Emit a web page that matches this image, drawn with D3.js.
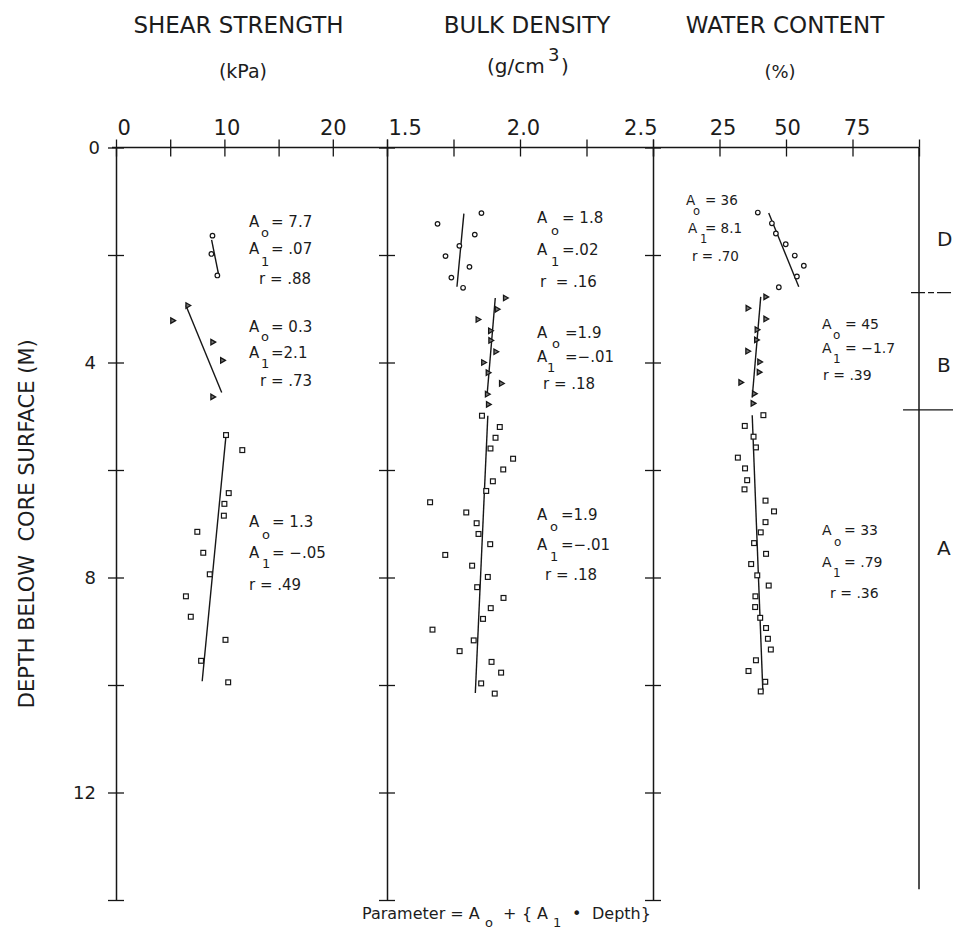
<!DOCTYPE html>
<html><head><meta charset="utf-8">
<script src="https://cdn.jsdelivr.net/npm/d3@7"></script>
<style>
html,body{margin:0;padding:0;background:#fff;}
svg{display:block;font-family:"DejaVu Sans",sans-serif;}
text{fill:#1c1c1c;white-space:pre;}
</style></head>
<body><svg id="c" width="953" height="931"></svg>
<script>
// ---------------- DATA ----------------
const titles = ["SHEAR STRENGTH","BULK DENSITY","WATER CONTENT"];
const units = ["(kPa)","(g/cm","(%)"];
const depthLabelTicks = [0,4,8,12];
const depthMinorTicks = [0,2,4,6,8,10,12,14];
const shearTickLabels = [0,10,20];
const shearMinor = [0,5,10,15,20,25];
const bulkTickLabels = [1.5,2.0,2.5];
const bulkMinor = [1.5,1.75,2.0,2.25,2.5];
const waterTickLabels = [25,50,75];
const waterMinor = [0,25,50,75,100];
const zoneNames = ["D","B","A"];
const zoneLabelDepth = [1.7,4.05,7.45];
const zoneBoundaries = [2.7,4.88];

// [depth (m), value]
const shearD = [[1.64,8.9],[1.98,8.8],[2.38,9.35]];
const shearB = [[2.94,6.6],[3.22,5.2],[3.62,8.9],[3.96,9.8],[4.64,8.9]];
const shearA = [[5.35,10.15],[5.63,11.65],[6.43,10.4],[6.63,10.0],[6.85,9.95],[7.15,7.5],[7.54,8.05],[7.94,8.65],[8.35,6.45],[8.73,6.9],[9.16,10.1],[9.55,7.85],[9.95,10.35]];
const shearFitD = [[1.72,8.82],[2.40,9.5]];
const shearFitB = [[2.94,6.45],[4.56,9.75]];
const shearFitA = [[5.35,10.15],[9.93,7.95]];

const bulkD = [[1.22,1.855],[1.42,1.69],[1.62,1.83],[1.83,1.772],[2.02,1.72],[2.22,1.81],[2.42,1.742],[2.61,1.786]];
const bulkB = [[2.80,1.944],[3.01,1.913],[3.20,1.841],[3.41,1.888],[3.59,1.889],[3.80,1.908],[4.00,1.862],[4.19,1.879],[4.39,1.929],[4.59,1.876],[4.78,1.88]];
const bulkA = [[4.99,1.857],[5.20,1.924],[5.40,1.908],[5.60,1.889],[5.79,1.974],[5.99,1.937],[6.21,1.898],[6.39,1.873],[6.60,1.662],[6.79,1.798],[6.99,1.837],[7.19,1.844],[7.38,1.888],[7.58,1.719],[7.78,1.820],[7.99,1.879],[8.18,1.839],[8.38,1.938],[8.57,1.890],[8.77,1.861],[8.97,1.671],[9.17,1.826],[9.37,1.773],[9.57,1.893],[9.77,1.929],[9.97,1.854],[10.16,1.905]];
const bulkFitD = [[1.23,1.789],[2.59,1.763]];
const bulkFitB = [[2.80,1.907],[4.62,1.876]];
const bulkFitA = [[4.99,1.879],[10.15,1.832]];

const waterD = [[1.21,39.4],[1.41,44.7],[1.60,46.2],[1.80,49.9],[2.01,53.3],[2.20,56.7],[2.40,54.1],[2.60,47.3]];
const waterB = [[2.78,42.3],[2.99,35.6],[3.19,42.3],[3.39,39.0],[3.58,38.8],[3.79,35.5],[3.99,40.0],[4.18,39.8],[4.37,32.9],[4.58,38.0],[4.76,37.5]];
const waterA = [[4.98,41.5],[5.18,34.5],[5.38,37.8],[5.58,38.7],[5.77,31.9],[5.97,34.6],[6.19,35.4],[6.36,34.4],[6.57,42.3],[6.77,45.5],[6.97,42.3],[7.16,40.5],[7.36,38.0],[7.56,42.5],[7.75,36.9],[7.96,39.2],[8.15,43.5],[8.35,38.5],[8.55,38.4],[8.75,40.3],[8.94,42.5],[9.14,43.2],[9.34,44.3],[9.54,38.7],[9.74,35.9],[9.94,42.2],[10.12,40.5]];
const waterFitD = [[1.22,43.5],[2.59,54.8]];
const waterFitB = [[2.78,40.5],[4.65,37.3]];
const waterFitA = [[4.98,37.3],[10.12,41.3]];

// regression statistics (shear D,B,A; bulk D,B,A; water D,B,A)
const statA0 = ["= 7.7","= 0.3","= 1.3","= 1.8","=1.9","=1.9","= 36","= 45","= 33"];
const statA1 = ["= .07","=2.1","= \u2212.05","=.02","=\u2212.01","=\u2212.01","= 8.1","= \u22121.7","= .79"];
const statR  = ["r = .88","r = .73","r = .49","r  = .16","r = .18","r = .18","r = .70","r = .39","r = .36"];

// ---------------- LAYOUT ----------------
const svg = d3.select("#c");
const ink = "#161616";
const y = d3.scaleLinear().domain([0,14]).range([147.5,900]);
const xShear = d3.scaleLinear().domain([0,25]).range([116,387]);
const xBulk = d3.scaleLinear().domain([1.5,2.5]).range([387,653]);
const xWater = d3.scaleLinear().domain([0,100]).range([653,919]);

// annotation block layout (pixels)
const annLayout = [
 {ax:249,ax2:249,y1:227,y2:254,y3:284,eq:271,rx:259,ox:261,oy:237,ix:261,iy:266,fs:15},
 {ax:249,ax2:249,y1:332,y2:358,y3:386,eq:271,rx:260,ox:261,oy:341,ix:261,iy:368,fs:15},
 {ax:249,ax2:249,y1:527,y2:558,y3:590,eq:272,rx:249,ox:262,oy:539,ix:262,iy:568,fs:15},
 {ax:537,ax2:537,y1:223,y2:255,y3:287,eq:562,rx:540,ox:551,oy:235,ix:551,iy:266,fs:15},
 {ax:537,ax2:537,y1:338,y2:362,y3:389,eq:565,rx:543,ox:552,oy:348,ix:547,iy:372,fs:15},
 {ax:537,ax2:537,y1:520,y2:550,y3:580,eq:561,rx:545,ox:550,oy:531,ix:550,iy:561,fs:15},
 {ax:686,ax2:688,y1:205,y2:233,y3:261,eq:705,rx:692,ox:693,oy:215,ix:700,iy:243,fs:13.5},
 {ax:822,ax2:822,y1:329,y2:353,y3:380,eq:845,rx:823,ox:833,oy:339,ix:833,iy:363,fs:14},
 {ax:822,ax2:822,y1:535,y2:567,y3:598,eq:844,rx:830,ox:834,oy:546,ix:833,iy:577,fs:14}
];

// ---------------- TITLES ----------------
const titleX = [238.5,527,785];
titles.forEach((t,i)=>{
  svg.append("text").attr("x",titleX[i]).attr("y",33).attr("text-anchor","middle")
    .attr("font-size",23).text(t);
});
svg.append("text").attr("x",243).attr("y",78).attr("text-anchor","middle").attr("font-size",19).text(units[0]);
svg.append("text").attr("x",487).attr("y",73).attr("font-size",20).text(units[1]);
svg.append("text").attr("x",548).attr("y",61).attr("font-size",18).text("3");
svg.append("text").attr("x",561).attr("y",73).attr("font-size",20).text(")");
svg.append("text").attr("x",780).attr("y",78).attr("text-anchor","middle").attr("font-size",18).text(units[2]);

// ---------------- TOP AXIS ----------------
const topG = svg.append("g").attr("transform",`translate(0,${y(0)})`);
function crossTicks(scale, vals){
  topG.append("g").call(d3.axisTop(scale).tickValues(vals).tickSize(8).tickSizeOuter(0).tickFormat(""))
    .call(g=>g.select(".domain").remove());
  topG.append("g").call(d3.axisBottom(scale).tickValues(vals).tickSize(9).tickSizeOuter(0).tickFormat(""))
    .call(g=>g.select(".domain").remove());
}
crossTicks(xShear, shearMinor); crossTicks(xBulk, bulkMinor); crossTicks(xWater, waterMinor);
topG.append("line").attr("x1",xShear(0)-4).attr("x2",xWater(100)).attr("stroke",ink).attr("stroke-width",1.5);
topG.selectAll(".tick line").attr("stroke",ink).attr("stroke-width",1.3);

function tickLabels(scale, vals, fmt, anchors, dxs){
  const g = topG.append("g").call(d3.axisTop(scale).tickValues(vals).tickSize(0).tickPadding(13).tickFormat(fmt));
  g.select(".domain").remove();
  g.selectAll("text").attr("font-size",21).attr("font-family","DejaVu Sans").attr("fill","#1c1c1c")
    .attr("text-anchor",(d,i)=>anchors[i]).attr("dx",(d,i)=>dxs[i]);
}
tickLabels(xShear, shearTickLabels, d3.format("d"), ["start","middle","middle"], [1,2,0]);
tickLabels(xBulk, bulkTickLabels, d3.format(".1f"), ["start","middle","end"], [1,3,4]);
tickLabels(xWater, waterTickLabels, d3.format("d"), ["middle","middle","middle"], [3,1,4]);

// ---------------- VERTICAL AXES ----------------
function vAxis(x0){
  const g = svg.append("g").attr("transform",`translate(${x0},0)`);
  g.append("g").call(d3.axisLeft(y).tickValues(depthMinorTicks).tickSize(8).tickSizeOuter(0).tickFormat(""));
  g.append("g").call(d3.axisLeft(y).tickValues(depthMinorTicks).tickSize(-8).tickSizeOuter(0).tickFormat(""))
     .call(gg=>gg.select(".domain").remove());
  g.selectAll(".domain").attr("stroke",ink).attr("stroke-width",1.5);
  g.selectAll(".tick line").attr("stroke",ink).attr("stroke-width",1.3);
  return g;
}
vAxis(xShear(0));
vAxis(xBulk(1.5));
vAxis(xWater(0));
svg.append("line").attr("x1",xWater(100)).attr("x2",xWater(100)).attr("y1",y(0)).attr("y2",y(13.8))
  .attr("stroke",ink).attr("stroke-width",1.5);

// depth labels
const dl = svg.append("g").attr("transform",`translate(${xShear(0)},0)`)
  .call(d3.axisLeft(y).tickValues(depthLabelTicks).tickSize(0).tickPadding(20).tickFormat(d3.format("d")));
dl.select(".domain").remove();
dl.selectAll("text").attr("font-size",18).attr("font-family","DejaVu Sans").attr("fill","#1c1c1c")
  .attr("dx",(d,i)=>i===0?4:0);

svg.append("text").attr("transform",`translate(34,${(y(3.4)+y(10.6))/2}) rotate(-90)`)
  .attr("text-anchor","middle").attr("font-size",21).text("DEPTH BELOW  CORE SURFACE (M)");

// ---------------- ZONES ----------------
zoneBoundaries.forEach((d,i)=>{
  svg.append("line").attr("x1",xWater(i===0?97:94)).attr("x2",953).attr("y1",y(d)).attr("y2",y(d))
    .attr("stroke",ink).attr("stroke-width",1.2).attr("stroke-dasharray",i===0?"14,3,6,3":null);
});
zoneNames.forEach((z,i)=>{
  svg.append("text").attr("x",937).attr("y",y(zoneLabelDepth[i])).attr("dy","0.36em")
    .attr("font-size",20).text(z);
});

// ---------------- MARKS ----------------
const line = (xs)=>d3.line().x(d=>xs(d[1])).y(d=>y(d[0]));
const marks = svg.append("g");
function fit(xs, data){
  marks.append("path").datum(data).attr("d",line(xs)).attr("fill","none").attr("stroke",ink).attr("stroke-width",1.4);
}
function circles(xs, data){
  marks.selectAll(null).data(data).enter().append("circle")
    .attr("cx",d=>xs(d[1])).attr("cy",d=>y(d[0])).attr("r",2.3)
    .attr("fill","#fff").attr("stroke",ink).attr("stroke-width",1.2);
}
function squares(xs, data){
  marks.selectAll(null).data(data).enter().append("rect")
    .attr("x",d=>xs(d[1])-2.4).attr("y",d=>y(d[0])-2.4).attr("width",4.8).attr("height",4.8)
    .attr("fill","#fff").attr("stroke",ink).attr("stroke-width",1.2);
}
const tri = d3.symbol().type(d3.symbolTriangle).size(13);
function triangles(xs, data){
  marks.selectAll(null).data(data).enter().append("path")
    .attr("d",tri).attr("transform",d=>`translate(${xs(d[1])},${y(d[0])}) rotate(90)`)
    .attr("fill","#777").attr("stroke",ink).attr("stroke-width",1.3);
}
fit(xShear, shearFitD); fit(xShear, shearFitB); fit(xShear, shearFitA);
fit(xBulk, bulkFitD); fit(xBulk, bulkFitB); fit(xBulk, bulkFitA);
fit(xWater, waterFitD); fit(xWater, waterFitB); fit(xWater, waterFitA);
circles(xShear, shearD); triangles(xShear, shearB); squares(xShear, shearA);
circles(xBulk, bulkD); triangles(xBulk, bulkB); squares(xBulk, bulkA);
circles(xWater, waterD); triangles(xWater, waterB); squares(xWater, waterA);

// ---------------- ANNOTATIONS ----------------
annLayout.forEach((L,i)=>{
  const g = svg.append("g").attr("font-size",L.fs);
  g.append("text").attr("x",L.ax).attr("y",L.y1).text("A");
  g.append("text").attr("x",L.eq).attr("y",L.y1).text(statA0[i]);
  g.append("text").attr("x",L.ox).attr("y",L.oy).attr("font-size",L.fs-2).text("o");
  g.append("text").attr("x",L.ax2).attr("y",L.y2).text("A");
  g.append("text").attr("x",L.eq).attr("y",L.y2).text(statA1[i]);
  g.append("text").attr("x",L.ix).attr("y",L.iy).attr("font-size",L.fs-2).text("1");
  g.append("text").attr("x",L.rx).attr("y",L.y3).text(statR[i]);
});

// ---------------- FORMULA ----------------
const fparts = [
  {t:"Parameter = A", x:362, sub:false},
  {t:"o", x:485, sub:true},
  {t:"+", x:503, sub:false},
  {t:"{", x:522, sub:false},
  {t:"A", x:537, sub:false},
  {t:"1", x:553, sub:true},
  {t:"\u2022", x:572, sub:false},
  {t:"Depth}", x:592, sub:false}
];
fparts.forEach(p=>{
  svg.append("text").attr("x",p.x).attr("y",p.sub?927:919).attr("font-size",p.sub?13:16).text(p.t);
});
</script></body></html>
